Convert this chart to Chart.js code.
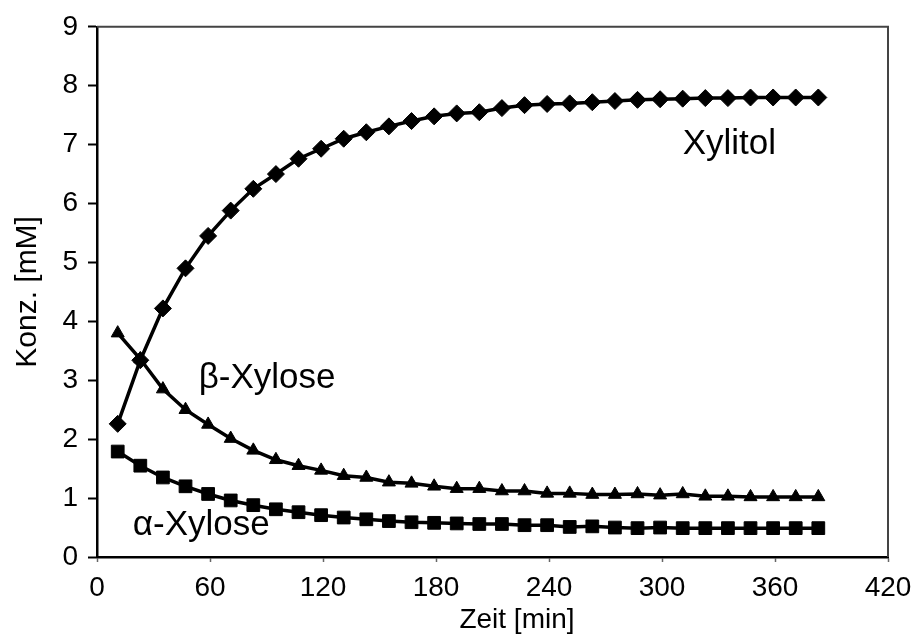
<!DOCTYPE html>
<html>
<head>
<meta charset="utf-8">
<script src="https://cdn.jsdelivr.net/npm/chart.js@4.4.1/dist/chart.umd.min.js"></script>
<style>
    html, body { margin: 0; padding: 0; background: #fff; }
    #wrap { width: 921px; height: 634px; }
</style>
</head>
<body>
<div id="wrap"><canvas id="kineticsChart" width="921" height="634"></canvas></div>
<script>
// --- Data ---
const times = [11, 23, 35, 47, 59, 71, 83, 95, 107, 119, 131, 143, 155, 167, 179, 191,
               203, 215, 227, 239, 251, 263, 275, 287, 299, 311, 323, 335, 347, 359, 371, 383];
const xylitol = [2.26, 3.34, 4.22, 4.90, 5.45, 5.88, 6.25, 6.50, 6.76, 6.93, 7.10, 7.21, 7.31, 7.40, 7.48, 7.53,
                 7.55, 7.62, 7.67, 7.69, 7.70, 7.72, 7.74, 7.76, 7.77, 7.78, 7.79, 7.79, 7.80, 7.80, 7.80, 7.80];
const betaXylose = [3.80, 3.36, 2.85, 2.50, 2.25, 2.01, 1.81, 1.65, 1.55, 1.47, 1.38, 1.35, 1.27, 1.25, 1.20, 1.16,
                    1.16, 1.12, 1.12, 1.08, 1.08, 1.06, 1.06, 1.07, 1.05, 1.07, 1.03, 1.03, 1.02, 1.02, 1.02, 1.02];
const alphaXylose = [1.79, 1.55, 1.35, 1.20, 1.07, 0.96, 0.88, 0.81, 0.76, 0.71, 0.67, 0.64, 0.61, 0.59, 0.58, 0.57,
                     0.56, 0.56, 0.54, 0.54, 0.51, 0.52, 0.50, 0.49, 0.50, 0.49, 0.49, 0.49, 0.49, 0.49, 0.49, 0.49];

const seriesNames = ['Xylitol', '\u03B2-Xylose', '\u03B1-Xylose'];
const xTicks = [0, 60, 120, 180, 240, 300, 360, 420];
const yTicks = [0, 1, 2, 3, 4, 5, 6, 7, 8, 9];

// curve labels, anchored in data units (left edge, baseline)
const curveLabels = [
    { text: 'Xylitol', x: 311, y: 6.84 },
    { text: '\u03B2-Xylose', x: 54, y: 2.87 },
    { text: '\u03B1-Xylose', x: 19, y: 0.37 }
];

const FONT = "'Liberation Sans', Arial, sans-serif";

function toPoints(values) {
    return times.map((t, i) => ({ x: t, y: values[i] }));
}

// --- Plugin: frame, curve labels, x title ---
const decorPlugin = {
    id: 'decor',
    afterDraw(chart) {
        const { ctx, chartArea, scales } = chart;
        ctx.save();

        // top / right frame
        ctx.strokeStyle = '#444';
        ctx.lineWidth = 2;
        ctx.beginPath();
        ctx.moveTo(chartArea.left, chartArea.top);
        ctx.lineTo(chartArea.right, chartArea.top);
        ctx.lineTo(chartArea.right, chartArea.bottom);
        ctx.stroke();

        ctx.fillStyle = '#000';
        ctx.textBaseline = 'alphabetic';
        ctx.textAlign = 'left';
        ctx.font = '35px ' + FONT;
        curveLabels.forEach(l => {
            ctx.fillText(l.text, scales.x.getPixelForValue(l.x), scales.y.getPixelForValue(l.y));
        });

        // x axis title (sits right of centre in the original)
        ctx.font = '28px ' + FONT;
        ctx.textAlign = 'center';
        ctx.fillText('Zeit [min]', scales.x.getPixelForValue(223), 628);
        ctx.restore();
    }
};

document.addEventListener('DOMContentLoaded', function () {

    const ctx = document.getElementById('kineticsChart').getContext('2d');

    const common = {
        showLine: true,
        borderColor: '#000',
        backgroundColor: '#000',
        pointBorderColor: '#000',
        pointBackgroundColor: '#000',
        borderWidth: 3.5,
        pointBorderWidth: 1,
        tension: 0
    };

    new Chart(ctx, {
        type: 'scatter',
        data: {
            datasets: [
                Object.assign({ label: seriesNames[0], data: toPoints(xylitol), pointStyle: 'rectRot', pointRadius: 8.5 }, common),
                Object.assign({ label: seriesNames[1], data: toPoints(betaXylose), pointStyle: 'triangle', pointRadius: 7.5 }, common),
                Object.assign({ label: seriesNames[2], data: toPoints(alphaXylose), pointStyle: 'rect', pointRadius: 9 }, common)
            ]
        },
        options: {
            responsive: false,
            animation: false,
            layout: { padding: { left: 0, top: 23, right: 33, bottom: 0 } },
            plugins: {
                legend: { display: false },
                tooltip: { enabled: false }
            },
            scales: {
                x: {
                    type: 'linear',
                    min: 0,
                    max: 420,
                    afterBuildTicks: axis => { axis.ticks = xTicks.map(v => ({ value: v })); },
                    afterFit: axis => { axis.height = 77; },
                    ticks: {
                        color: '#000',
                        padding: 9,
                        maxRotation: 0,
                        font: { family: FONT, size: 28 }
                    },
                    grid: { drawOnChartArea: false, tickLength: 5, color: '#666', tickWidth: 1.5 },
                    border: { display: true, color: '#000', width: 2.5 },
                    title: { display: false }
                },
                y: {
                    min: 0,
                    max: 9,
                    afterBuildTicks: axis => { axis.ticks = yTicks.map(v => ({ value: v })); },
                    afterFit: axis => { axis.width = 97; },
                    ticks: {
                        color: '#000',
                        padding: 10,
                        font: { family: FONT, size: 28 }
                    },
                    grid: { drawOnChartArea: false, tickLength: 9, color: '#000', tickWidth: 2 },
                    border: { display: true, color: '#000', width: 2.5 },
                    title: {
                        display: true,
                        text: 'Konz. [mM]',
                        color: '#000',
                        padding: { top: 10, bottom: 0 },
                        font: { family: FONT, size: 30 }
                    }
                }
            }
        },
        plugins: [decorPlugin]
    });
});
</script>
</body>
</html>
